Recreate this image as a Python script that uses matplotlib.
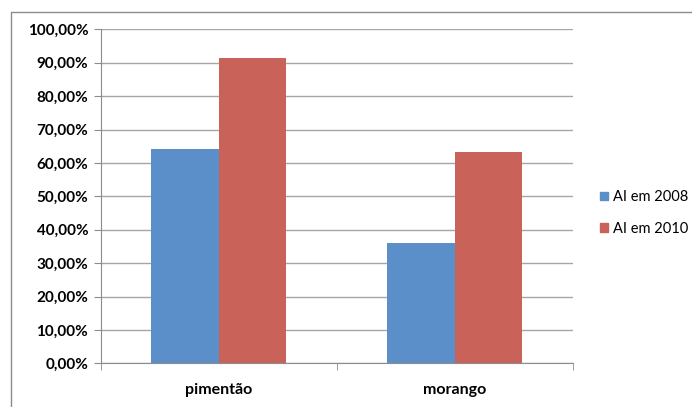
import numpy as np
import matplotlib.pyplot as plt
from matplotlib.lines import Line2D
from matplotlib.ticker import FuncFormatter

categorias = ['pimentão', 'morango']
ai_2008 = [64.1, 36.1]
ai_2010 = [91.5, 63.3]
series = ['AI em 2008', 'AI em 2010']
cores = ['#5A8FCA', '#C9635A']

plt.rcParams['font.family'] = ['Lato', 'DejaVu Sans']
plt.rcParams['font.weight'] = 'bold'

fig = plt.figure(figsize=(6.92, 4.07), dpi=100)
ax = fig.add_axes([100.7/692, 1-363.3/407, (573-100.7)/692, (363.3-29.3)/407])

x = np.arange(len(categorias))
w = 1/3.5
ax.bar(x - w/2, ai_2008, w, color=cores[0], label=series[0], zorder=3)
ax.bar(x + w/2, ai_2010, w, color=cores[1], label=series[1], zorder=3)

ax.set_xlim(-0.5, len(categorias) - 0.5)
ax.set_ylim(0, 100)
ax.set_yticks(np.arange(0, 101, 10))
ax.yaxis.set_major_formatter(FuncFormatter(lambda v, p: ('%.2f%%' % v).replace('.', ',')))
ax.set_xticks(x)
ax.set_xticklabels(categorias)
ax.set_xticks(np.arange(-0.5, len(categorias), 1), minor=True)
ax.tick_params(axis='x', which='major', length=0, pad=14, labelsize=11.5)
ax.tick_params(axis='x', which='minor', length=5, color='#8C8C8C', direction='out')
ax.tick_params(axis='y', length=5, color='#8C8C8C', labelsize=11, pad=4)
ax.grid(axis='y', color='#A6A6A6', linewidth=1, zorder=0)

for s in ['top', 'right']:
    ax.spines[s].set_visible(False)
for s in ['left', 'bottom']:
    ax.spines[s].set_color('#8C8C8C')

handles = [plt.Rectangle((0, 0), 1, 1, color=c) for c in cores]
fig.legend(handles, series, loc='center left', bbox_to_anchor=(587/692, 1-213/407),
           frameon=False, handlelength=0.55, handleheight=0.55, handletextpad=0.3,
           labelspacing=1.2, prop={'size': 10.5, 'weight': 'normal'})

# moldura do grafico
fig.add_artist(Line2D([11/692, 11/692, 1], [0, 1-12/407, 1-12/407],
                      transform=fig.transFigure, color='#8C8C8C', linewidth=1))

fig.savefig('out.png', dpi=100)
